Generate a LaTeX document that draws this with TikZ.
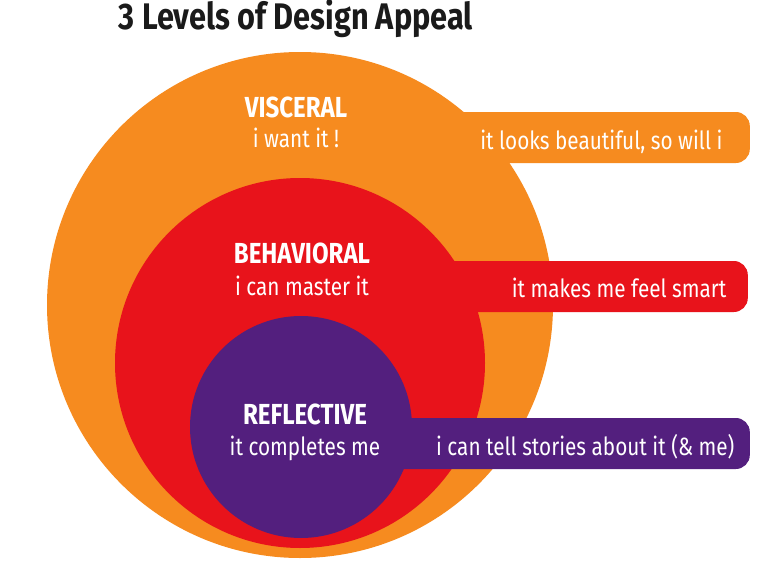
\documentclass[tikz,border=0pt]{standalone}
\usepackage{fontspec}
\setmainfont{Fira Sans}[FakeStretch=0.83]
\usepackage{xcolor}
\usetikzlibrary{positioning}
\definecolor{dvorange}{RGB}{246,139,31}
\definecolor{dvred}{RGB}{232,19,27}
\definecolor{dvpurple}{RGB}{83,31,126}
\definecolor{dvink}{RGB}{26,26,26}
\tikzset{
  level/.style={circle, fill=#1, inner sep=0pt},
  band/.style={fill=#1, rounded corners=14pt, minimum height=51pt,
               inner sep=0pt, anchor=east},
  lvname/.style={font=\fontsize{29}{31}\selectfont\bfseries, text=white, anchor=base},
  lvtag/.style={font=\fontsize{25}{27}\selectfont, text=white, anchor=base},
  bandtext/.style={font=\fontsize{25}{27}\selectfont, text=white, anchor=base east},
}

\begin{document}
\begin{tikzpicture}[x=1pt, y=-1pt]
\useasboundingbox (0,0) rectangle (780,570);

% Title
\node[font=\fontsize{37}{40}\selectfont\bfseries, text=dvink, anchor=base] (title) at (296,29)
      {3 Levels of Design Appeal};

% Visceral
\node[level=dvorange, minimum size=506pt] (visceral) at (300,305) {};
\node[band=dvorange, minimum width=360pt] (vband) at (750,137.5) {};

% Behavioral
\node[level=dvred, minimum size=370pt] (behavioral) at (300,363) {};
\node[band=dvred, minimum width=360pt] (bband) at (748,286.5) {};

% Reflective
\node[level=dvpurple, minimum size=222pt] (reflective) at (301,427) {};
\node[band=dvpurple, minimum width=380pt] (rband) at (750,443.5) {};

% Level names
\node[lvname] (vname) at (296,117) {VISCERAL};
\node[lvtag]  (vtag)  at (296,147) {i want it !};
\node[lvname] (bname) at (302,263) {BEHAVIORAL};
\node[lvtag]  (btag)  at (302,295) {i can master it};
\node[lvname] (rname) at (305,424) {REFLECTIVE};
\node[lvtag]  (rtag)  at (305,455) {it completes me};

% Band texts
\node[bandtext] (vsay) at (726,149) {it looks beautiful, so will i};
\node[bandtext] (bsay) at (730,297) {it makes me feel smart};
\node[bandtext] (rsay) at (738,455) {i can tell stories about it (\& me)};

\end{tikzpicture}
\end{document}
